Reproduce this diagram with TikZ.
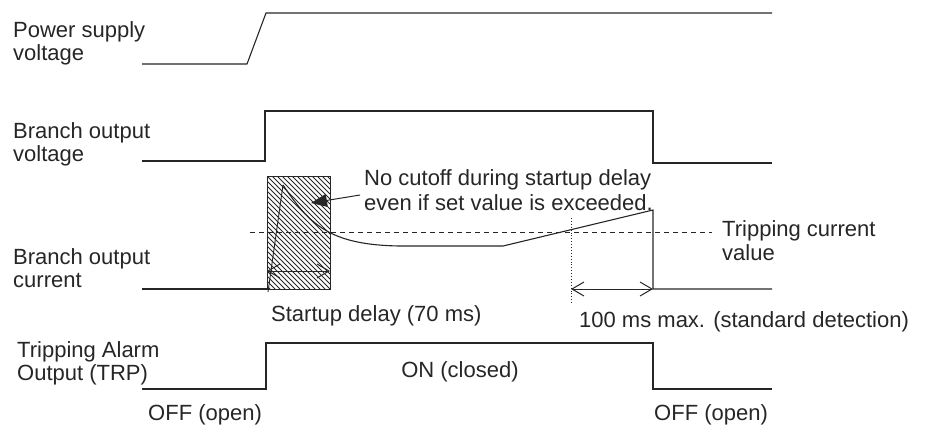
\documentclass[tikz,border=0pt]{standalone}
\usepackage{fontspec}
\setmainfont{Liberation Sans}
\usetikzlibrary{arrows.meta}
\begin{document}
\begin{tikzpicture}[x=1pt,y=-1pt,
  sig/.style={line width=1.1pt, black!85},
  lbl/.style={font=\fontsize{22}{23}\selectfont, inner sep=0pt, align=left, anchor=north west, text=black!85},
  txt/.style={font=\fontsize{22}{23}\selectfont, inner sep=0pt, text=black!85},
  dimarrow/.style={line width=1pt, black!85, {Straight Barb[length=12pt,width=14pt]}-{Straight Barb[length=12pt,width=14pt]}},
  hatch/.style={line width=0.75pt, black!85},
]
\useasboundingbox (0,0) rectangle (927,432);

% labels
\node[lbl] (ps) at (13,21) {Power supply\\voltage};
\node[lbl] (bv) at (13,122) {Branch output\\voltage};
\node[lbl] (bc) at (13,248) {Branch output\\current};
\node[lbl] (ta) at (17,341) {Tripping Alarm\\Output (TRP)};
\node[lbl, font=\fontsize{22}{24}\selectfont] (tc) at (722,220) {Tripping current\\value};
\node[lbl, font=\fontsize{22}{25.5}\selectfont] (nc) at (364,169) {No cutoff during startup delay\\even if set value is exceeded.};
\node[txt, anchor=base west] (sd) at (271,321) {Startup delay (70 ms)};
\node[txt, anchor=base west] (md) at (579,327) {100 ms max. (standard detection)};
\node[txt, anchor=base] (on) at (460,377) {ON (closed)};
\node[txt, anchor=base west] (off1) at (148,420) {OFF (open)};
\node[txt, anchor=base west] (off2) at (654,420) {OFF (open)};

% power supply voltage
\draw[sig] (142,64) -- (247,64) -- (266,13) -- (772,13);

% branch output voltage
\draw[sig] (142,161) -- (265,161) -- (265,111) -- (653,111) -- (653,163) -- (772,163);

% hatched startup-delay box
\begin{scope}
  \clip (267,176) rectangle (330,289);
  \foreach \d in {-120,-115,...,70} {
    \draw[hatch] (267+\d,176) -- (267+\d+113,289);
  }
\end{scope}
\draw[line width=1pt, black!85] (267,176) rectangle (330,289);

% threshold (dashed)
\draw[line width=0.9pt, black!85, dash pattern=on 5pt off 4pt] (250,232) -- (712,232);

% branch output current
\draw[sig] (142,289) -- (268,289);
\draw[line width=0.9pt, black!85] (268,292) -- (283,185);
\draw[sig] (283,185) .. controls (310,225) and (330,245) .. (400,246) -- (503,246) -- (653,210) -- (653,289) -- (772,289);

% dotted vertical at trip detection
\draw[line width=0.9pt, black!85, dotted] (571,218) -- (571,303);

% dimension arrows
\coordinate (sa) at (267,271);
\coordinate (sb) at (330,271);
\draw[dimarrow] (sa) -- (sb);
\coordinate (ma) at (571,289);
\coordinate (mb) at (653,289);
\draw[dimarrow] (ma) -- (mb);

% annotation arrow
\coordinate (ntail) at (360,195);
\coordinate (ntip) at (311,203);
\draw[line width=1pt, black!85, -{Triangle[length=16pt,width=13pt]}] (ntail) -- (ntip);

% tripping alarm output
\draw[sig] (142,389) -- (266,389) -- (266,343) -- (653,343) -- (653,389) -- (772,389);
\end{tikzpicture}
\end{document}
